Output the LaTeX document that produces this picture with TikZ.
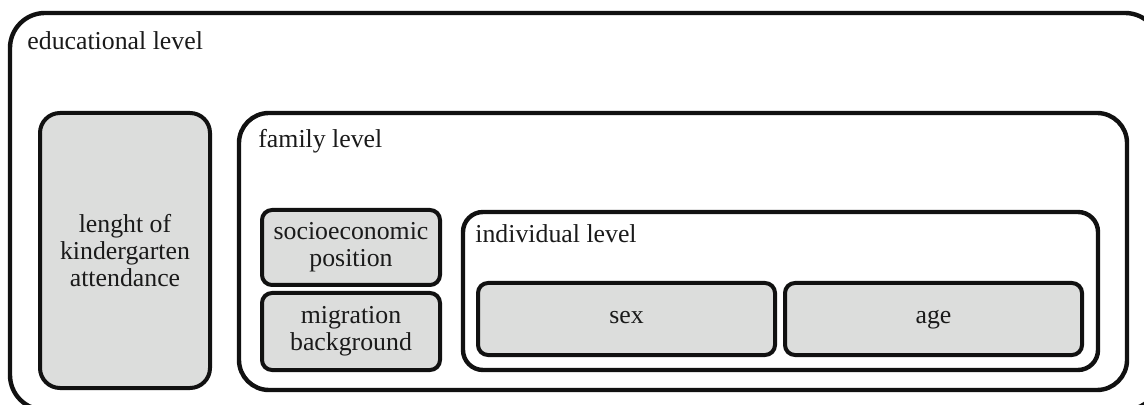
\documentclass[tikz,border=0pt]{standalone}
\usepackage{fontspec}
\setmainfont{Liberation Serif}
\usetikzlibrary{positioning}
\definecolor{boxgray}{HTML}{DCDDDC}
\definecolor{boxline}{HTML}{111111}
\definecolor{textdark}{HTML}{1A1A1A}

\begin{document}
\begin{tikzpicture}[x=0.5pt, y=-0.5pt,
    every node/.style={font=\fontsize{12.9}{13.4}\selectfont, text=textdark, inner sep=0pt},
    levelbox/.style={draw=boxline, line width=2.2pt, rounded corners=#1, fill=white},
    factorbox/.style={draw=boxline, line width=2pt, rounded corners=#1, fill=boxgray, align=center},
    oneword/.style={text height=1ex, text depth=0pt}]
  \useasboundingbox (0,0) rectangle (1144,405);
  \clip (0,0) rectangle (1144,405);
  % nested levels
  \node[levelbox=17.5pt, minimum width=575pt, minimum height=198.5pt] (edu) at (585,211.5) {};
  \node[factorbox=10pt, minimum width=85pt, minimum height=137.5pt] (kinder) at (125,250.5) {lenght of\\kindergarten\\attendance};
  \node[levelbox=15pt, minimum width=444pt, minimum height=138.5pt] (fam) at (683,251.5) {};
  \node[factorbox=5pt, minimum width=89pt, minimum height=37.5pt] (socio) at (351,247.5) {socioeconomic\\position};
  \node[factorbox=5pt, minimum width=89pt, minimum height=38.5pt] (migr) at (351,331.5) {migration\\background};
  \node[levelbox=10pt, minimum width=317.5pt, minimum height=79pt] (ind) at (780.5,291) {};
  \node[factorbox=5pt, oneword, minimum width=148.5pt, minimum height=36pt] (sex) at (626.5,319) {sex};
  \node[factorbox=5pt, oneword, minimum width=148.5pt, minimum height=36pt] (age) at (933.5,319) {age};
  % level labels
  \node[anchor=base west] (edulabel) at (27,50) {educational level};
  \node[anchor=base west] (famlabel) at (258,148) {family level};
  \node[anchor=base west] (indlabel) at (475,243) {individual level};
\end{tikzpicture}
\end{document}
